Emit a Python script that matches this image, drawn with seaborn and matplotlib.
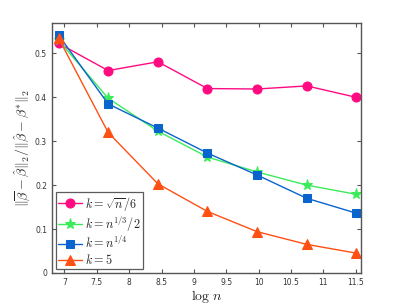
import matplotlib
matplotlib.use("Agg")
import matplotlib.pyplot as plt
import seaborn as sns
import pandas as pd
import numpy as np

# log n values (n = 1e3 ... 1e5)
log_n = [6.908, 7.675, 8.443, 9.210, 9.978, 10.745, 11.513]

k_sqrt = [0.523, 0.461, 0.481, 0.420, 0.419, 0.426, 0.400]
k_cube = [0.530, 0.398, 0.323, 0.264, 0.230, 0.200, 0.179]
k_quart = [0.542, 0.385, 0.330, 0.273, 0.223, 0.170, 0.136]
k_five = [0.535, 0.320, 0.203, 0.140, 0.094, 0.065, 0.045]

labels = [r"$k=\sqrt{n}/6$", r"$k=n^{1/3}/2$", r"$k=n^{1/4}$", r"$k=5$"]
colors = ["#FF0A80", "#3CEB5A", "#0A64CD", "#FF5014"]
markers = ["o", "*", "s", "^"]
sizes = [6.5, 8, 5.5, 7]

sns.set_style("white")
plt.rcParams["mathtext.fontset"] = "cm"
plt.rcParams["font.family"] = ["DejaVu Sans"]

rows = []
for lab, ys in zip(labels, [k_sqrt, k_cube, k_quart, k_five]):
    for x, y in zip(log_n, ys):
        rows.append({"logn": x, "ratio": y, "k": lab})
df = pd.DataFrame(rows)

fig = plt.figure(figsize=(3.99, 3.07), dpi=100)
ax = fig.add_axes([0.130, 0.111, 0.775, 0.815])

for lab, col, mk, ms in zip(labels, colors, markers, sizes):
    sns.lineplot(data=df[df["k"] == lab], x="logn", y="ratio", color=col,
                 marker=mk, markersize=ms, markeredgecolor=col, linewidth=1.0,
                 label=lab, ax=ax)

ax.set_xlim(6.805, 11.585)
ax.set_ylim(0, 0.57)
ax.set_xticks([7, 7.5, 8, 8.5, 9, 9.5, 10, 10.5, 11, 11.5])
ax.set_xticklabels(["7", "7.5", "8", "8.5", "9", "9.5", "10", "10.5", "11", "11.5"])
ax.set_yticks([0, 0.1, 0.2, 0.3, 0.4, 0.5])
ax.set_yticklabels(["0", "0.1", "0.2", "0.3", "0.4", "0.5"])
ax.tick_params(direction="in", length=3, width=0.8, labelsize=5.5,
               colors="#555555", labelcolor="#333333",
               top=True, right=True, bottom=True, left=True)
for s in ax.spines.values():
    s.set_color("#555555")
    s.set_linewidth(1.0)

ax.set_xlabel(r"$\log\,n$", fontsize=10, labelpad=1)
ax.set_ylabel(r"$\|\overline{\beta}-\hat{\beta}\|_2/\|\hat{\beta}-\beta^{*}\|_2$",
              fontsize=10, labelpad=1)

leg = ax.legend(loc="lower left", fontsize=8.8, frameon=True, fancybox=False,
                borderpad=0.2, handlelength=2.0, handletextpad=0.2,
                labelspacing=0.12, borderaxespad=0.3)
leg.get_frame().set_edgecolor("#333333")
leg.get_frame().set_linewidth(0.9)

fig.savefig("out.png", dpi=100)
